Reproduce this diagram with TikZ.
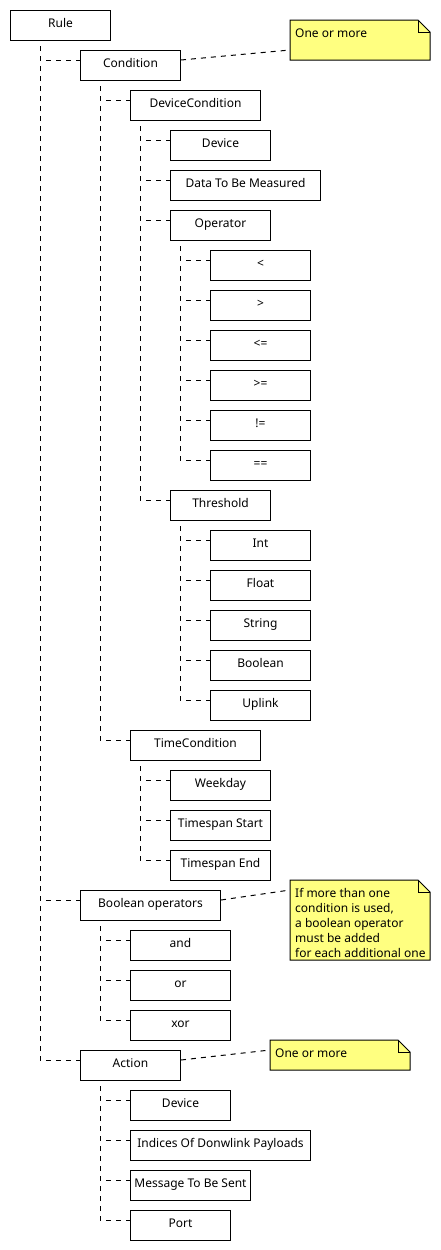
\documentclass[tikz,border=0pt]{standalone}
\usepackage{fontspec}
\setmainfont{Noto Sans}
\usetikzlibrary{calc}
\definecolor{noteyellow}{RGB}{255,255,128}
\tikzset{
  item box/.style={
    draw=black,
    line width=1pt,
    fill=white,
    anchor=north west,
    inner xsep=2pt,
    inner ysep=0pt,
    text height=17pt,
    text depth=13pt,
    minimum width=100pt,
    font=\fontsize{12pt}{15pt}\selectfont
  },
  tree edge/.style={
    line width=1pt,
    dash pattern=on 5pt off 5pt,
    dash phase=5pt
  },
  note edge/.style={
    line width=1pt,
    dash pattern=on 5pt off 5pt
  },
  note shape/.style={
    draw=black,
    line width=1pt,
    fill=noteyellow,
    line join=miter
  },
  note text/.style={
    anchor=base west,
    inner sep=0pt,
    align=left,
    font=\fontsize{12pt}{15pt}\selectfont
  }
}

\begin{document}
\begin{tikzpicture}[x=1pt, y=-1pt]
  \useasboundingbox (0,0) rectangle (440,1250);

  % ===================================
  % 各层方框
  % ===================================
  \node[item box] (rule) at (10,10) {Rule};
  \node[item box] (condition) at (80,50) {Condition};
  \node[item box, minimum width=130pt] (devcond) at (130,90) {DeviceCondition};
  \node[item box] (device) at (170,130) {Device};
  \node[item box, minimum width=150pt] (measured) at (170,170) {Data To Be Measured};
  \node[item box] (operator) at (170,210) {Operator};
  % 比较运算符
  \foreach \s [count=\i] in {<, >, <=, >=, !=, ==} {
    \node[item box] (op\i) at (210, 210 + 40*\i) {\s};
  }
  \node[item box] (threshold) at (170,490) {Threshold};
  % 阈值类型
  \foreach \s [count=\i] in {Int, Float, String, Boolean, Uplink} {
    \node[item box] (type\i) at (210, 490 + 40*\i) {\s};
  }
  \node[item box, minimum width=130pt] (timecond) at (130,730) {TimeCondition};
  \node[item box] (weekday) at (170,770) {Weekday};
  \node[item box] (tsstart) at (170,810) {Timespan Start};
  \node[item box] (tsend) at (170,850) {Timespan End};
  \node[item box, minimum width=140pt] (boolops) at (80,890) {Boolean operators};
  \node[item box] (and) at (130,930) {and};
  \node[item box] (or) at (130,970) {or};
  \node[item box] (xor) at (130,1010) {xor};
  \node[item box] (action) at (80,1050) {Action};
  \node[item box] (actdevice) at (130,1090) {Device};
  \node[item box, minimum width=180pt] (indices) at (130,1130) {Indices Of Donwlink Payloads};
  \node[item box, minimum width=120pt] (message) at (130,1170) {Message To Be Sent};
  \node[item box] (port) at (130,1210) {Port};

  % ===================================
  % 树状虚线连接
  % ===================================
  \coordinate (rule-b) at ([xshift=30pt]rule.south west);
  \coordinate (condition-b) at ([xshift=20pt]condition.south west);
  \coordinate (devcond-b) at ([xshift=10pt]devcond.south west);
  \coordinate (operator-b) at ([xshift=10pt]operator.south west);
  \coordinate (threshold-b) at ([xshift=10pt]threshold.south west);
  \coordinate (timecond-b) at ([xshift=10pt]timecond.south west);
  \coordinate (boolops-b) at ([xshift=20pt]boolops.south west);
  \coordinate (action-b) at ([xshift=20pt]action.south west);

  \foreach \c in {condition, boolops, action}
    \draw[tree edge] (rule-b) |- ([yshift=-10pt]\c.north west);
  \foreach \c in {devcond, timecond}
    \draw[tree edge] (condition-b) |- ([yshift=-10pt]\c.north west);
  \foreach \c in {device, measured, operator, threshold}
    \draw[tree edge] (devcond-b) |- ([yshift=-10pt]\c.north west);
  \foreach \i in {1,...,6}
    \draw[tree edge] (operator-b) |- ([yshift=-10pt]op\i.north west);
  \foreach \i in {1,...,5}
    \draw[tree edge] (threshold-b) |- ([yshift=-10pt]type\i.north west);
  \foreach \c in {weekday, tsstart, tsend}
    \draw[tree edge] (timecond-b) |- ([yshift=-10pt]\c.north west);
  \foreach \c in {and, or, xor}
    \draw[tree edge] (boolops-b) |- ([yshift=-10pt]\c.north west);
  \foreach \c in {actdevice, indices, message, port}
    \draw[tree edge] (action-b) |- ([yshift=-10pt]\c.north west);

  % ===================================
  % 注释（折角便签）
  % ===================================
  \coordinate (N1) at (290,20);
  \coordinate (N2) at (290,880);
  \coordinate (N3) at (270,1040);

  \draw[note shape] (N1) -- ++(128,0) -- ++(12,12) -- ++(0,28) -- ++(-140,0) -- cycle;
  \draw[line width=1pt] ($(N1)+(128,0)$) |- ++(12,12);
  \draw[note shape] (N2) -- ++(128,0) -- ++(12,12) -- ++(0,68) -- ++(-140,0) -- cycle;
  \draw[line width=1pt] ($(N2)+(128,0)$) |- ++(12,12);
  \draw[note shape] (N3) -- ++(128,0) -- ++(12,12) -- ++(0,18) -- ++(-140,0) -- cycle;
  \draw[line width=1pt] ($(N3)+(128,0)$) |- ++(12,12);

  % 多行文字的 base 锚点在最后一行：首行基线 17，每行 15
  \node[note text] (note1) at ($(N1)+(5,17)$) {One or more};
  \node[note text] (note2) at ($(N2)+(5,77)$) {If more than one\\condition is used,\\a boolean operator\\must be added\\for each additional one};
  \node[note text] (note3) at ($(N3)+(5,17)$) {One or more};

  \draw[note edge] ([yshift=-10pt]condition.north east) -- ($(N1)+(0,30)$);
  \draw[note edge] ([yshift=-10pt]boolops.north east) -- ($(N2)+(0,10)$);
  \draw[note edge] ([yshift=-10pt]action.north east) -- ($(N3)+(0,10)$);

\end{tikzpicture}
\end{document}
